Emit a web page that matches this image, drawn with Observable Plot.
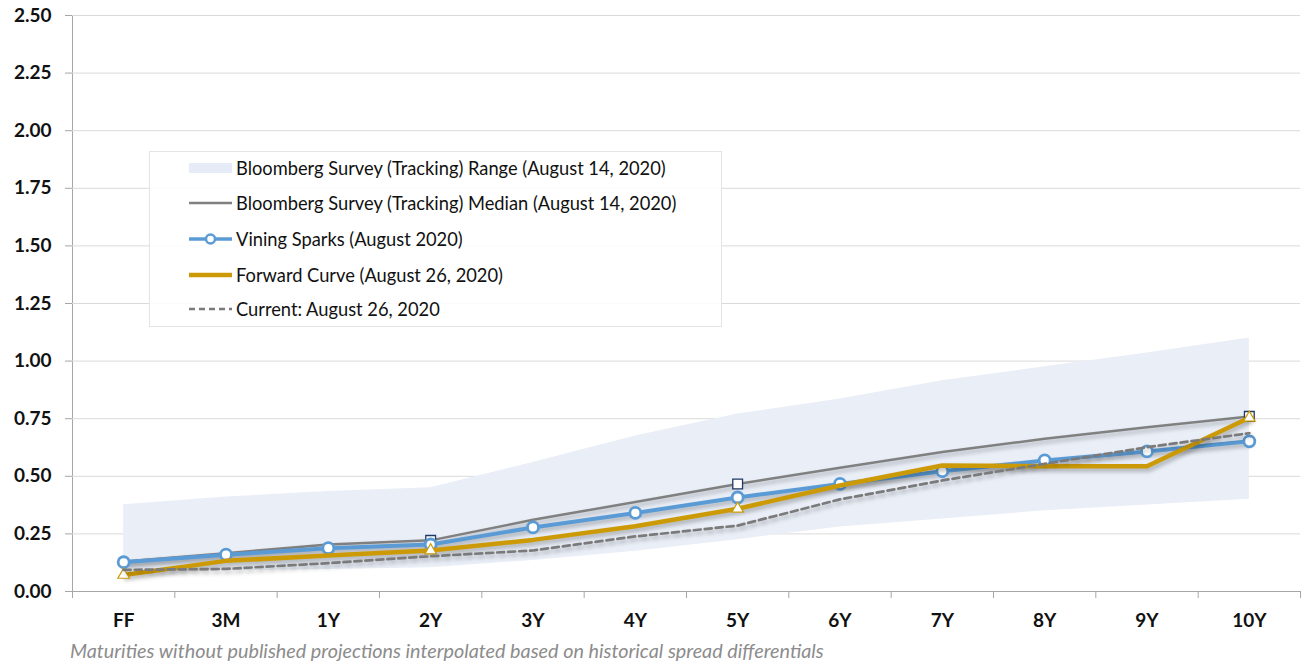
<!DOCTYPE html>
<html>
<head>
<meta charset="utf-8">
<script src="https://cdn.jsdelivr.net/npm/d3@7"></script>
<script src="https://cdn.jsdelivr.net/npm/@observablehq/plot@0.6"></script>
<style>
  html, body { margin: 0; padding: 0; background: #fff; }
  body { font-family: Lato, "Open Sans", sans-serif; width: 1304px; height: 664px; overflow: hidden; }
  #wrap { position: relative; width: 1304px; }
  #chart svg g[aria-label="line"] { filter: drop-shadow(2px 3px 2px rgba(0,0,0,0.28)); }
  #legend {
    position: absolute; left: 149px; top: 151px; width: 573px; height: 176px;
    background: rgba(255,255,255,0.86); border: 1px solid #E4E4E4; box-sizing: border-box;
  }
  .lrow { position: absolute; left: 38px; height: 24px; display: flex; align-items: center; font-size: 18.3px; color: #111; white-space: nowrap; }
  .lrow svg { margin-right: 3px; }
  #caption { font-family: Lato, sans-serif; font-style: italic; font-size: 19.8px; color: #8C8C8C; margin: 3px 0 0 70px; line-height: 22px; white-space: nowrap; }
</style>
</head>
<body>
<div id="wrap">
  <div id="chart"></div>
  <div id="legend"></div>
</div>
<div id="caption"></div>
<script>
// ---- data ----
const categories = ["FF","3M","1Y","2Y","3Y","4Y","5Y","6Y","7Y","8Y","9Y","10Y"];
const rangeLow  = [0.085, 0.09, 0.095, 0.103, 0.135, 0.175, 0.225, 0.28, 0.315, 0.35, 0.375, 0.40];
const rangeHigh = [0.376, 0.41, 0.434, 0.45, 0.56, 0.675, 0.77, 0.835, 0.915, 0.975, 1.035, 1.10];
const median    = [0.13, 0.166, 0.204, 0.222, 0.311, 0.388, 0.467, 0.537, 0.605, 0.663, 0.713, 0.76];
const vining    = [0.127, 0.16, 0.188, 0.204, 0.278, 0.341, 0.408, 0.467, 0.522, 0.569, 0.608, 0.652];
const forward   = [0.072, 0.133, 0.156, 0.178, 0.224, 0.283, 0.359, 0.46, 0.547, 0.544, 0.544, 0.754];
const current   = [0.094, 0.098, 0.123, 0.153, 0.178, 0.239, 0.286, 0.40, 0.482, 0.554, 0.626, 0.687];
const medianMarkerCats  = ["2Y","5Y","10Y"];
const forwardMarkerCats = ["FF","2Y","5Y","10Y"];
const yTicks = [0, 0.25, 0.5, 0.75, 1, 1.25, 1.5, 1.75, 2, 2.25, 2.5];
const caption = "Maturities without published projections interpolated based on historical spread differentials";

const legendItems = [
  {label: "Bloomberg Survey (Tracking) Range (August 14, 2020)", kind: "range"},
  {label: "Bloomberg Survey (Tracking) Median (August 14, 2020)", kind: "median"},
  {label: "Vining Sparks (August 2020)", kind: "vining"},
  {label: "Forward Curve (August 26, 2020)", kind: "forward"},
  {label: "Current: August 26, 2020", kind: "current"}
];

const colors = {
  range: "#E9EEF7",
  median: "#808080",
  vining: "#5B9BD5",
  forward: "#CC9A06",
  current: "#7A7A7A",
  square: "#203864"
};

// ---- table ----
const rows = categories.map((c, i) => ({
  i, c,
  low: rangeLow[i], high: rangeHigh[i],
  median: median[i], vining: vining[i], forward: forward[i], current: current[i]
}));
const boundaries = d3.range(categories.length + 1).map(k => k - 0.5);

const chart = Plot.plot({
  width: 1304,
  height: 636,
  marginTop: 15,
  marginBottom: 45,
  marginLeft: 72,
  marginRight: 4,
  style: {color: "#A6A6A6", fontFamily: "Lato, sans-serif", background: "white", overflow: "visible"},
  x: {type: "linear", domain: [-0.5, categories.length - 0.5], ticks: boundaries, tickFormat: () => "", tickSize: 7, line: true, label: null},
  y: {domain: [0, 2.5], ticks: yTicks, tickFormat: () => "", tickSize: 7, line: true, label: null},
  marks: [
    Plot.ruleY(yTicks.filter(d => d > 0), {stroke: "#DADADA", strokeWidth: 1}),
    Plot.areaY(rows, {x: "i", y1: "low", y2: "high", fill: colors.range, curve: "linear"}),
    Plot.line(rows, {x: "i", y: "median", stroke: colors.median, strokeWidth: 2.5}),
    Plot.dot(rows.filter(d => medianMarkerCats.includes(d.c)), {x: "i", y: "median", symbol: "square", r: 5.5, fill: "white", stroke: colors.square, strokeWidth: 1.3}),
    Plot.line(rows, {x: "i", y: "vining", stroke: colors.vining, strokeWidth: 4}),
    Plot.dot(rows, {x: "i", y: "vining", r: 5.5, fill: "white", stroke: colors.vining, strokeWidth: 2.8}),
    Plot.line(rows, {x: "i", y: "forward", stroke: colors.forward, strokeWidth: 4.5}),
    Plot.dot(rows.filter(d => forwardMarkerCats.includes(d.c)), {x: "i", y: "forward", symbol: "triangle", r: 4.3, fill: "white", stroke: colors.forward, strokeWidth: 1.2}),
    Plot.line(rows, {x: "i", y: "current", stroke: colors.current, strokeWidth: 2.7, strokeDasharray: "7,4"}),
    // tick labels
    Plot.text(rows, {x: "i", y: () => 0, text: "c", dy: 29, fontWeight: "bold", fontSize: 19, fill: "#111"}),
    Plot.text(yTicks, {y: d => d, frameAnchor: "left", text: d => d.toFixed(2), textAnchor: "end", dx: -21, fontWeight: "bold", fontSize: 19, fill: "#111"})
  ]
});
document.getElementById("chart").appendChild(chart);

// ---- legend ----
const legend = d3.select("#legend");
const rowTops = [4, 39, 75, 111, 145];
legendItems.forEach((item, k) => {
  const r = legend.append("div").attr("class", "lrow").style("top", rowTops[k] + "px");
  const s = r.append("svg").attr("width", 45).attr("height", 14);
  if (item.kind === "range") {
    s.append("rect").attr("x", 1).attr("y", 2).attr("width", 43).attr("height", 10).attr("fill", "#E6ECF7");
  } else if (item.kind === "median") {
    s.append("line").attr("x1", 1).attr("x2", 44).attr("y1", 7).attr("y2", 7).attr("stroke", colors.median).attr("stroke-width", 2.5);
  } else if (item.kind === "vining") {
    s.append("line").attr("x1", 1).attr("x2", 44).attr("y1", 7).attr("y2", 7).attr("stroke", colors.vining).attr("stroke-width", 3.5);
    s.append("circle").attr("cx", 22.5).attr("cy", 7).attr("r", 4.5).attr("fill", "white").attr("stroke", colors.vining).attr("stroke-width", 2.5);
  } else if (item.kind === "forward") {
    s.append("line").attr("x1", 1).attr("x2", 44).attr("y1", 7).attr("y2", 7).attr("stroke", colors.forward).attr("stroke-width", 4.5);
  } else {
    s.append("line").attr("x1", 1).attr("x2", 44).attr("y1", 7).attr("y2", 7).attr("stroke", colors.current).attr("stroke-width", 2.5).attr("stroke-dasharray", "6,4");
  }
  r.append("span").text(item.label);
});
document.getElementById("caption").textContent = caption;
</script>
</body>
</html>
